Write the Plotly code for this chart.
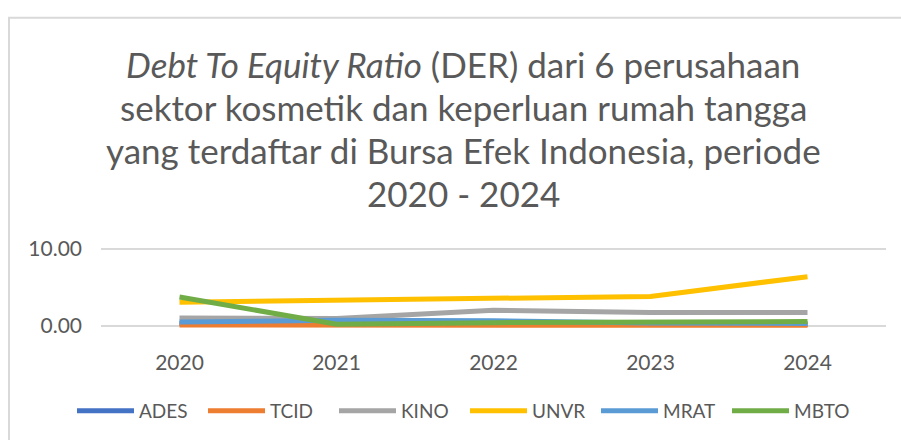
import plotly.graph_objects as go

years = ["2020", "2021", "2022", "2023", "2024"]
ades = [0.35, 0.35, 0.25, 0.20, 0.20]
tcid = [0.15, 0.15, 0.10, 0.10, 0.10]
kino = [1.05, 1.00, 2.05, 1.75, 1.75]
unvr = [3.10, 3.30, 3.55, 3.85, 6.40]
mrat = [0.55, 0.75, 0.70, 0.40, 0.35]
mbto = [3.77, 0.25, 0.45, 0.55, 0.60]

series = [("ADES", ades, "#4472C4"), ("TCID", tcid, "#ED7D31"), ("KINO", kino, "#A5A5A5"),
          ("UNVR", unvr, "#FFC000"), ("MRAT", mrat, "#5B9BD5"), ("MBTO", mbto, "#70AD47")]

title_lines = ["<i>Debt To Equity Ratio</i> (DER) dari 6 perusahaan",
               "sektor kosmetik dan keperluan rumah tangga",
               "yang terdaftar di Bursa Efek Indonesia, periode",
               "2020 - 2024"]

FONT = "Lato"
GRAY = "#595959"

fig = go.Figure()
for name, vals, col in series:
    fig.add_trace(go.Scatter(x=years, y=vals, name=name, mode="lines",
                             line=dict(color=col, width=5)))

W, H = 901, 440
L, R, T, B = 101, 15, 245, 109
ph = H - T - B
pw = W - L - R

def py(pix):
    return (H - B - pix) / ph

def px(pix):
    return (pix - L) / pw

annotations = []
for i, (txt, yc) in enumerate(zip(title_lines, [62, 105, 149, 192])):
    annotations.append(dict(text=txt, x=px(463), y=py(yc), xref="paper", yref="paper",
                            xanchor="center", yanchor="middle", showarrow=False,
                            font=dict(family=FONT, size=35, color=GRAY)))

fig.update_layout(
    width=W, height=H,
    margin=dict(l=L, r=R, t=T, b=B),
    paper_bgcolor="white", plot_bgcolor="white",
    showlegend=True,
    legend=dict(orientation="h", x=px(72), y=py(411), xanchor="left", yanchor="middle",
                font=dict(family=FONT, size=19, color=GRAY),
                itemwidth=57, entrywidth=59, traceorder="normal"),
    annotations=annotations,
    shapes=[dict(type="rect", xref="paper", yref="paper", x0=px(9), x1=px(960),
                 y0=py(500), y1=py(15), line=dict(color="#D9D9D9", width=2),
                 layer="below")],
    xaxis=dict(type="category", range=[-0.5, 4.5], showgrid=False, zeroline=False,
               showline=False, ticks="", ticklabelstandoff=18,
               tickfont=dict(family=FONT, size=21, color=GRAY)),
    yaxis=dict(range=[-0.5, 10.5], tickvals=[0, 10], tickformat=".2f",
               showgrid=True, gridcolor="#D9D9D9", gridwidth=1.5, zeroline=False,
               showline=False, ticks="", ticklabelstandoff=18,
               tickfont=dict(family=FONT, size=21, color=GRAY)),
)

fig.write_html("out.html")
